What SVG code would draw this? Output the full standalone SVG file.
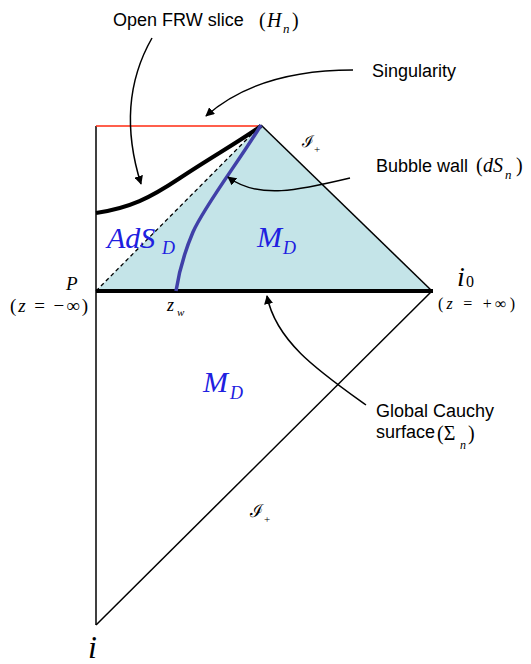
<svg xmlns="http://www.w3.org/2000/svg" width="531" height="664" viewBox="0 0 531 664">
<style>
.sans{font-family:"Liberation Sans",Arial,sans-serif;font-size:18px;fill:#000}
.m{font-family:"Liberation Serif","Times New Roman",serif;font-style:italic;fill:#000}
.r{font-family:"Liberation Serif","Times New Roman",serif;font-style:normal;fill:#000}
.cal{font-family:"DejaVu Serif",serif;font-style:normal;fill:#000}
.blue{fill:#2020e0}
.ln{stroke:#000;stroke-width:1.5;fill:none}
.arr{stroke:#000;stroke-width:1.5;fill:none;marker-end:url(#ah)}
</style>
<defs>
<marker id="ah" viewBox="0 0 10 10" refX="9" refY="5" markerWidth="9" markerHeight="9" markerUnits="userSpaceOnUse" orient="auto">
<path d="M0,0 L10,5 L0,10 z" fill="#000"/>
</marker>
</defs>
<g id="region-upper">
<polygon points="96,291 261,125 432,291" fill="#c4e4e8"/>
</g>
<g id="edges">
<line class="ln" x1="96" y1="126" x2="96" y2="625"/>
<line x1="96" y1="126" x2="261" y2="126" stroke="#ff2a10" stroke-width="1.5"/>
<line class="ln" x1="261" y1="125" x2="432" y2="291"/>
<line class="ln" x1="432" y1="291" x2="96" y2="625"/>
<line x1="96" y1="291" x2="258" y2="128" stroke="#000" stroke-width="1.3" stroke-dasharray="4,3"/>
<line x1="96" y1="291" x2="433" y2="291" stroke="#000" stroke-width="4"/>
</g>
<g id="frw-slice">
<path d="M96,213 C130,208 150,198 180,178 C210,158 240,141 261,126" stroke="#000" stroke-width="4" fill="none"/>
</g>
<g id="bubble-wall">
<path d="M261,125 C240,160 205,205 193,232 C182,258 178,278 176,291" stroke="#4040a8" stroke-width="3.5" fill="none"/>
</g>
<g id="connectors">
<path class="arr" d="M152,38 C128,80 124,130 141,184"/>
<path class="arr" d="M353,70 C290,70 240,86 206,116"/>
<path class="arr" d="M350,178 C300,190 258,200 228,177"/>
<path class="arr" d="M366,405 C320,372 276,342 267,296"/>
</g>
<g id="labels">
<text class="sans" x="113" y="26">Open FRW slice</text>
<text class="r" x="259" y="27" font-size="20">(</text>
<text class="m" x="267" y="27" font-size="20">H</text>
<text class="m" x="283" y="33" font-size="13">n</text>
<text class="r" x="292" y="27" font-size="20">)</text>
<text class="sans" x="372" y="77">Singularity</text>
<text class="sans" x="376" y="172">Bubble wall</text>
<text class="r" x="476" y="172" font-size="20">(</text>
<text class="m" x="483" y="172" font-size="20">dS</text>
<text class="m" x="505" y="179" font-size="13">n</text>
<text class="r" x="516" y="172" font-size="20">)</text>
<text class="cal" x="302" y="147" font-size="16">ℐ</text>
<text class="r" x="314" y="153" font-size="11">+</text>
<text class="cal" x="250" y="517" font-size="18">ℐ</text>
<text class="r" x="264" y="523" font-size="11">+</text>
<text class="m blue" x="107" y="248" font-size="30">AdS</text>
<text class="m blue" x="162" y="254" font-size="18">D</text>
<text class="m blue" x="257" y="247" font-size="30">M</text>
<text class="m blue" x="283" y="254" font-size="18">D</text>
<text class="m blue" x="203" y="392" font-size="30">M</text>
<text class="m blue" x="230" y="399" font-size="18">D</text>
<text class="m" x="66" y="290" font-size="19">P</text>
<text class="r" font-size="19" x="10" y="312" textLength="78" lengthAdjust="spacing">(<tspan font-style="italic">z</tspan> = −∞)</text>
<text class="m" x="167" y="311" font-size="18">z</text>
<text class="m" x="177" y="316" font-size="11">w</text>
<text class="m" x="457" y="286" font-size="28">i</text>
<text class="r" x="466" y="287" font-size="16">0</text>
<text class="r" font-size="16" x="438" y="309" textLength="77" lengthAdjust="spacing">(<tspan font-style="italic">z</tspan> = +∞)</text>
<text class="sans" x="376" y="417">Global Cauchy</text>
<text class="sans" x="376" y="438">surface</text>
<text class="r" x="437" y="440" font-size="20">(Σ</text>
<text class="m" x="460" y="449" font-size="12">n</text>
<text class="r" x="468" y="440" font-size="20">)</text>
<text class="m" x="88" y="658" font-size="32">i</text>
</g>
</svg>
